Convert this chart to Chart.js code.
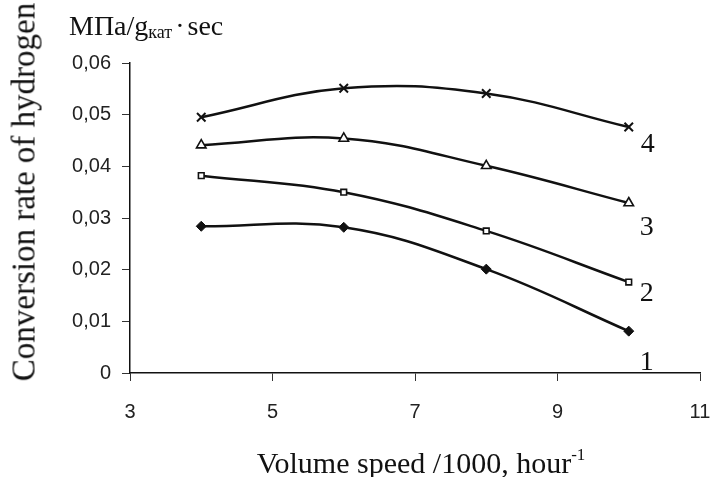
<!DOCTYPE html>
<html>
<head>
<meta charset="utf-8">
<script src="https://cdn.jsdelivr.net/npm/chart.js@4"></script>
<style>
    body { margin: 0; background: #fff; }
    #wrap { position: relative; width: 714px; height: 477px; overflow: hidden; }
    #chart { position: absolute; left: 0; top: 0; }
    .txt {
        position: absolute;
        font-family: "Liberation Serif", "Times New Roman", serif;
        color: #111;
        white-space: nowrap;
        line-height: 1;
    }
    #yTitle { left: 24px; top: 192px; font-size: 33px; transform: translate(-50%, -50%) rotate(-90deg); }
    #unit { left: 69px; top: 12px; font-size: 28px; }
    #unit sub { font-size: 18px; vertical-align: -3px; }
    #unit .dot { margin: 0 3px; }
    #xTitle { left: 421px; top: 446px; font-size: 30px; transform: translateX(-50%); }
    #xTitle sup { font-size: 17px; vertical-align: 13px; }
    .curve { font-size: 28px; transform: translate(-50%, -50%); }
</style>
</head>
<body>
<div id="wrap">
    <canvas id="chart" width="714" height="477"></canvas>
    <div class="txt" id="yTitle">Conversion rate of hydrogen</div>
    <div class="txt" id="unit">МПа/g<sub>кат</sub><span class="dot">·</span>sec</div>
    <div class="txt" id="xTitle">Volume speed /1000, hour<sup>-1</sup></div>
</div>

<script>
// ================= DATA =================

const speeds = [4, 6, 8, 10];
const series1 = [0.0284, 0.0282, 0.0201, 0.0081];
const series2 = [0.0382, 0.0350, 0.0275, 0.0176];
const series3 = [0.0441, 0.0454, 0.0401, 0.0329];
const series4 = [0.0495, 0.0551, 0.0541, 0.0476];
const curveNames = ['1', '2', '3', '4'];
const xTicks = [3, 5, 7, 9, 11];
const yTicks = [0, 0.01, 0.02, 0.03, 0.04, 0.05, 0.06];

// ================= STYLES =================

const ink = '#111';
const markers = [
    { pointStyle: 'rectRot', pointRadius: 5, pointBackgroundColor: ink, pointBorderWidth: 1 },
    { pointStyle: 'rect', pointRadius: 4, pointBackgroundColor: '#fff', pointBorderWidth: 1.6 },
    { pointStyle: 'triangle', pointRadius: 5.5, pointBackgroundColor: '#fff', pointBorderWidth: 1.6 },
    { pointStyle: 'crossRot', pointRadius: 6, pointBackgroundColor: ink, pointBorderWidth: 2 }
];
// label offsets from the last point of each curve
const labelOffsets = [[18, 30], [18, 10], [18, 23], [19, 16]];

function toPoints(values) {
    return speeds.map((x, i) => ({ x: x, y: values[i] }));
}

const allSeries = [series1, series2, series3, series4];

const datasets = allSeries.map((values, i) => Object.assign({
    label: curveNames[i],
    data: toPoints(values),
    borderColor: ink,
    borderWidth: 2.5,
    pointBorderColor: ink,
    tension: 0.4,
    fill: false
}, markers[i]));

// curve number labels as html text
const wrap = document.getElementById('wrap');
const curveLabels = curveNames.map(name => {
    const el = document.createElement('div');
    el.className = 'txt curve';
    el.textContent = name;
    wrap.appendChild(el);
    return el;
});

const curveLabelPlugin = {
    id: 'curveLabels',
    afterDraw(chart) {
        chart.data.datasets.forEach((ds, i) => {
            const pts = chart.getDatasetMeta(i).data;
            const last = pts[pts.length - 1];
            curveLabels[i].style.left = (last.x + labelOffsets[i][0]) + 'px';
            curveLabels[i].style.top = (last.y + labelOffsets[i][1]) + 'px';
        });
    }
};

function commaTick(v) {
    return v === 0 ? '0' : v.toFixed(2).replace('.', ',');
}

const tickFont = { family: '"Liberation Sans", Arial, sans-serif', size: 20 };

new Chart(document.getElementById('chart'), {
    type: 'line',
    data: { datasets: datasets },
    plugins: [curveLabelPlugin],
    options: {
        responsive: false,
        animation: false,
        layout: { padding: { top: 63, right: 14, left: 0, bottom: 0 } },
        plugins: { legend: { display: false }, tooltip: { enabled: false } },
        scales: {
            x: {
                type: 'linear',
                min: xTicks[0],
                max: xTicks[xTicks.length - 1],
                afterBuildTicks: s => { s.ticks = xTicks.map(v => ({ value: v })); },
                afterFit: s => { s.height = 104; s.paddingLeft = 0; s.paddingRight = 0; },
                grid: { drawOnChartArea: false, tickLength: 8, color: '#333', lineWidth: 1 },
                border: { color: ink, width: 1.5 },
                ticks: { font: tickFont, color: '#222', padding: 19, maxRotation: 0 }
            },
            y: {
                min: yTicks[0],
                max: yTicks[yTicks.length - 1],
                afterBuildTicks: s => { s.ticks = yTicks.map(v => ({ value: v })); },
                afterFit: s => { s.width = 130; s.paddingTop = 0; s.paddingBottom = 0; },
                grid: { drawOnChartArea: false, tickLength: 8, color: '#333', lineWidth: 1 },
                border: { color: ink, width: 1.5 },
                ticks: { font: tickFont, color: '#222', padding: 11, callback: commaTick }
            }
        }
    }
});
</script>
</body>
</html>
